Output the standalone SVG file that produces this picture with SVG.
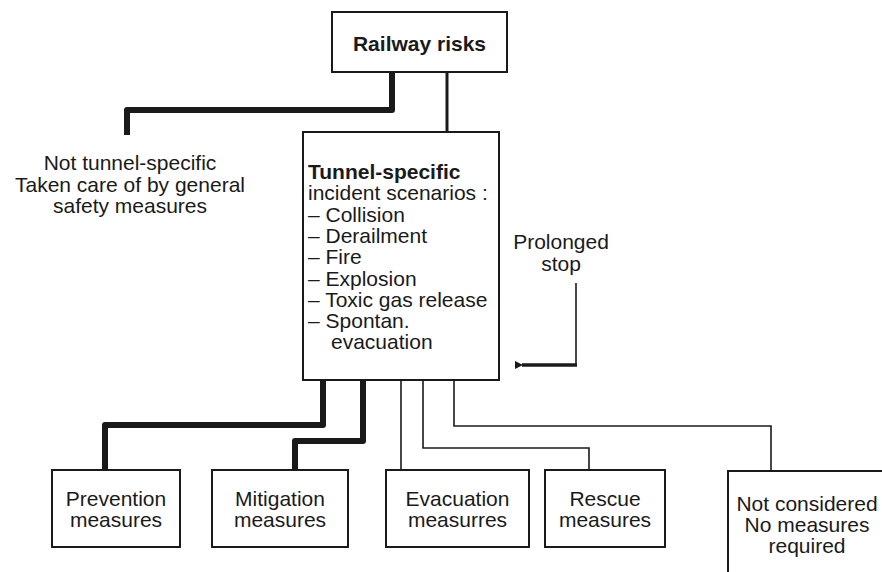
<svg xmlns="http://www.w3.org/2000/svg" width="882" height="572" viewBox="0 0 882 572">
<style>
.box{fill:#fff;stroke:#1a1a1a;stroke-width:2}
.t{font-family:"Liberation Sans",Arial,sans-serif;font-size:21px;fill:#1a1a1a}
.c{text-anchor:middle}
.b{font-weight:bold}
.thick{fill:none;stroke:#1a1a1a;stroke-width:6;stroke-linejoin:round}
.mid{fill:none;stroke:#1a1a1a;stroke-width:3}
.thin{fill:none;stroke:#1a1a1a;stroke-width:1.6}
</style>
<defs>
<marker id="ah" markerWidth="8" markerHeight="8" refX="1" refY="4" orient="auto" markerUnits="userSpaceOnUse">
<path d="M8,0 L0,4 L8,8 Z" fill="#1a1a1a"/>
</marker>
</defs>
<rect width="882" height="572" fill="#fff"/>
<g id="connectors">
<path class="thick" d="M392,72 V110 H127 V135"/>
<path class="mid" d="M447,72 V133"/>
<path class="thick" d="M323,380 V425 H105 V470"/>
<path class="thick" d="M363,380 V441 H295 V470"/>
<path class="thin" d="M401,380 V470"/>
<path class="thin" d="M423,380 V448 H589 V470"/>
<path class="thin" d="M454,380 V426 H771 V471"/>
<path class="thin" d="M576,283 V365"/>
<path d="M577,365 H522" fill="none" stroke="#1a1a1a" stroke-width="3.5" marker-end="url(#ah)"/>
</g>
<g id="railway-risks">
<rect class="box" x="332" y="12" width="175" height="60"/>
<text class="t c b" x="419.5" y="51">Railway risks</text>
</g>
<g id="not-tunnel-specific">
<text class="t c" x="130" y="170">Not tunnel-specific</text>
<text class="t c" x="130" y="192">Taken care of by general</text>
<text class="t c" x="130" y="213">safety measures</text>
</g>
<g id="tunnel-specific">
<rect class="box" x="303" y="132" width="196" height="248"/>
<text class="t b" x="308" y="179">Tunnel-specific</text>
<text class="t" x="308" y="200">incident scenarios :</text>
<text class="t" x="308" y="222">– Collision</text>
<text class="t" x="308" y="243">– Derailment</text>
<text class="t" x="308" y="264">– Fire</text>
<text class="t" x="308" y="286">– Explosion</text>
<text class="t" x="308" y="307">– Toxic gas release</text>
<text class="t" x="308" y="328">– Spontan.</text>
<text class="t" x="331" y="349">evacuation</text>
</g>
<g id="prolonged-stop">
<text class="t c" x="561" y="249">Prolonged</text>
<text class="t c" x="561" y="271">stop</text>
</g>
<g id="prevention">
<rect class="box" x="52" y="470" width="128" height="77"/>
<text class="t c" x="116" y="506">Prevention</text>
<text class="t c" x="116" y="527">measures</text>
</g>
<g id="mitigation">
<rect class="box" x="212" y="470" width="136" height="77"/>
<text class="t c" x="280" y="506">Mitigation</text>
<text class="t c" x="280" y="527">measures</text>
</g>
<g id="evacuation">
<rect class="box" x="386" y="470" width="143" height="77"/>
<text class="t c" x="457.5" y="506">Evacuation</text>
<text class="t c" x="457.5" y="527">measurres</text>
</g>
<g id="rescue">
<rect class="box" x="545" y="470" width="120" height="77"/>
<text class="t c" x="605" y="506">Rescue</text>
<text class="t c" x="605" y="527">measures</text>
</g>
<g id="not-considered">
<path d="M728,572 V471 H882" fill="none" stroke="#1a1a1a" stroke-width="2"/>
<text class="t c" x="807" y="511">Not considered</text>
<text class="t c" x="807" y="532">No measures</text>
<text class="t c" x="807" y="553">required</text>
</g>
</svg>
